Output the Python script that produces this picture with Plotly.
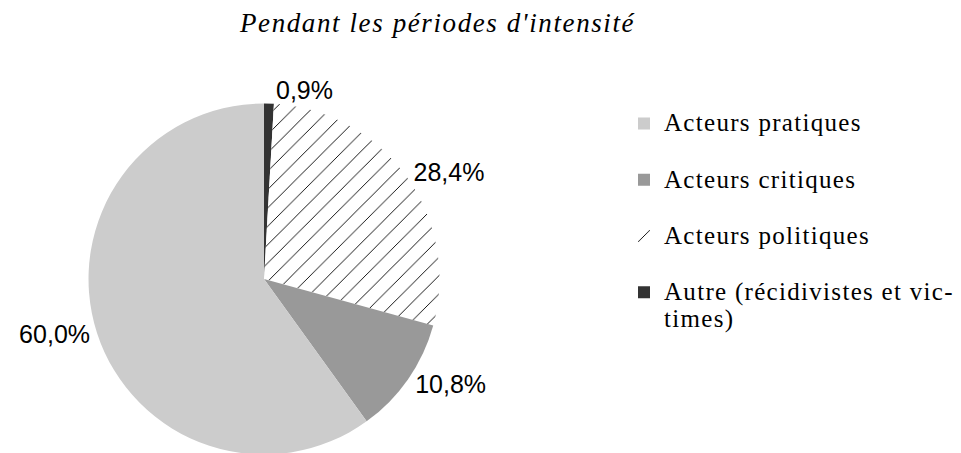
import plotly.graph_objects as go

# Data (order: clockwise from 12 o'clock)
labels = ["Autre (récidivistes et vic-<br>times)", "Acteurs politiques",
          "Acteurs critiques", "Acteurs pratiques"]
values = [0.9, 28.4, 10.8, 60.0]
colors = ["#333333", "#ffffff", "#999999", "#cccccc"]
patterns = ["", "/", "", ""]
title = "Pendant les périodes d'intensité"

texts = [f"{v:.1f}%".replace(".", ",") for v in values]

LEG_STYLE = "font-size:25px;letter-spacing:1.3px"
legend_labels = []
for i, lab in enumerate(labels):
    s = f"<span style='{LEG_STYLE}'>" + lab.replace("<br>", f"</span><br><span style='{LEG_STYLE}'>") + "</span>"
    if "<br>" not in lab:
        s += "<br> "
    legend_labels.append(s)

fig = go.Figure(go.Pie(
    labels=legend_labels,
    values=values,
    text=texts,
    textinfo="text",
    textposition="outside",
    textfont=dict(family="Liberation Sans, Arial", size=25, color="#000000"),
    sort=False,
    direction="clockwise",
    rotation=0,
    automargin=False,
    hoverinfo="percent+value",
    marker=dict(colors=colors,
                line=dict(width=0),
                pattern=dict(shape=patterns, fgcolor="#000000", bgcolor="#ffffff",
                             size=13, solidity=0.07)),
    domain=dict(x=[0.0, 0.5328], y=[0.0144, 0.7892]),
    showlegend=True,
))

fig.update_layout(
    width=961, height=453,
    margin=dict(l=0, r=0, t=0, b=0, autoexpand=False),
    paper_bgcolor="#ffffff",
    plot_bgcolor="#ffffff",
    title=dict(text=f"<span style='letter-spacing:1.6px'>{title}</span>",
               x=0.447, xanchor="center", y=0.968, yanchor="middle",
               font=dict(family="Liberation Serif, Times New Roman", size=27,
                         color="#000000", style="italic")),
    legend=dict(x=0.641, y=0.789, xanchor="left", yanchor="top",
                traceorder="reversed",
                font=dict(family="Liberation Serif, Times New Roman", size=20.5,
                          color="#000000"),
                valign="top", itemwidth=30),
)

fig.write_html("out.html")
